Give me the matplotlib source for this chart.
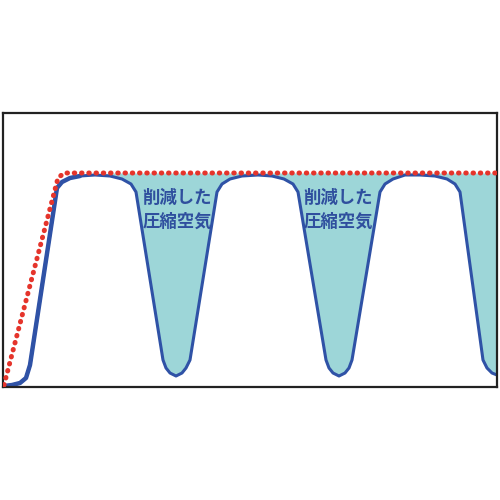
import matplotlib.pyplot as plt

plt.rcParams['font.family'] = ['Noto Sans CJK JP', 'DejaVu Sans']

blue_x = [4, 12, 20, 26, 30, 57, 62, 70, 80, 95, 110, 122, 131, 136,
          163, 166, 170, 176, 182, 186, 190,
          217, 222, 230, 242, 258, 272, 284, 293, 298,
          326, 329, 333, 339, 345, 349, 352,
          380, 385, 393, 405, 420, 435, 447, 455, 460,
          483, 487, 492, 497]
blue_y = [386, 385, 383, 378, 365, 188, 182, 178, 176, 175, 176, 179, 184, 192,
          360, 368, 373, 376, 373, 368, 360,
          192, 184, 179, 176, 175, 176, 179, 184, 192,
          360, 368, 373, 376, 373, 368, 360,
          192, 184, 179, 175, 175, 176, 179, 184, 192,
          360, 368, 373, 375]

# red dotted: air use before
red_x = [4, 58, 64, 497]
red_y = [385, 178, 173, 173]
top_level = 173

labels = ['削減した\n圧縮空気', '削減した\n圧縮空気']
label_x = [177, 338]
label_y = [210, 210]

fig = plt.figure(figsize=(5, 5), dpi=100)
ax = fig.add_axes([3 / 500, 113 / 500, 494 / 500, 274 / 500])

ax.fill_between(blue_x, blue_y, top_level,
                where=[x >= 100 for x in blue_x], interpolate=True,
                color='#9dd6d8', linewidth=0, zorder=1)
ax.plot(blue_x, blue_y, color='#2f52a6', lw=2.2, zorder=2,
        solid_joinstyle='round')
ax.plot(blue_x[:9], blue_y[:9], color='#2f52a6', lw=3.2, zorder=2,
        solid_capstyle='round')
ax.plot(red_x, red_y, color='#e5342b', lw=3.6, linestyle=(0, (0.1, 1.35)),
        dash_capstyle='round', zorder=3)

for t, x, y in zip(labels, label_x, label_y):
    ax.text(x, y, t, ha='center', va='center', fontsize=12.5,
            fontweight='bold', color='#2f4f9e', linespacing=1.45, zorder=4)

ax.set_xlim(3, 497)
ax.set_ylim(387, 113)
ax.set_xticks([])
ax.set_yticks([])
for s in ax.spines.values():
    s.set_color('#222222')
    s.set_linewidth(1.6)

fig.savefig('out.png', dpi=100)
